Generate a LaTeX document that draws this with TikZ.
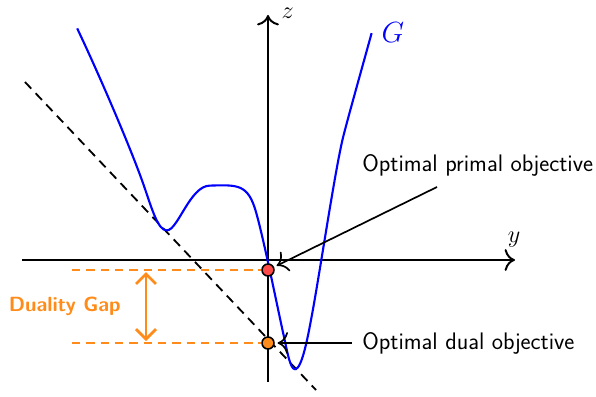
\documentclass[tikz,border=0pt]{standalone}
\usepackage{fontspec}
\usepackage{xcolor}
\usepackage{tikz}
\usetikzlibrary{arrows.meta, calc}
\definecolor{gaporange}{HTML}{FF8C1A}
\definecolor{primalred}{HTML}{FF4A4A}
\definecolor{curveblue}{HTML}{0000FF}

\begin{document}
\begin{tikzpicture}[
        font=\sffamily\fontsize{17}{20}\selectfont,
        axis/.style={-{To[length=2.6mm]}, black, line width=1.4pt},
        curve/.style={curveblue, line width=1.5pt},
        tangent/.style={black, line width=1.3pt, dash pattern=on 6.5pt off 4.5pt},
        gapline/.style={gaporange, line width=2pt, dash pattern=on 6pt off 4.2pt},
        gaparr/.style={{Straight Barb[length=2.5mm]}-{Straight Barb[length=2.5mm]},
                gaporange, line width=2pt},
        dot/.style={circle, draw=black, line width=1.1pt, minimum size=0.3cm,
                inner sep=0pt},
        pointer/.style={-{To[length=2.6mm]}, black, line width=1.2pt,
                shorten >=2pt},
        lbl/.style={anchor=west, inner sep=0pt},
        mathlbl/.style={font=\fontsize{17.28}{20}\selectfont, inner sep=0pt},
    ]
    \useasboundingbox (-6.7,-3.4) rectangle (8.2,6.5);

    % axes
    \coordinate (yStart) at (-6.15,0);
    \coordinate (yEnd) at (6.175,0);
    \coordinate (zStart) at (0,-3.05);
    \coordinate (zEnd) at (0,6.125);
    \draw[axis] (yStart) -- (yEnd);
    \draw[axis] (zStart) -- (zEnd);
    \node[mathlbl] (yLbl) at (6.15,0.5) {$y$};
    \node[mathlbl] (zLbl) at (0.49,6.17) {$z$};

    % supporting line
    \coordinate (tanA) at (-6.075,4.45);
    \coordinate (tanB) at (1.2,-3.25);
    \draw[tangent] (tanA) -- (tanB);

    % the function G
    \draw[curve] (-4.77,5.79)
        .. controls (-4.2,4.59) and (-3.4,2.72) .. (-3.1,1.85)
        .. controls (-2.9,1.27) and (-2.75,0.74) .. (-2.53,0.74)
        .. controls (-2.25,0.74) and (-1.95,1.86) .. (-1.45,1.86)
        .. controls (-0.75,1.88) and (-0.5,1.9) .. (-0.3,1.2)
        .. controls (-0.1,0.5) and (0.25,-1.25) .. (0.38,-1.83)
        .. controls (0.48,-2.28) and (0.55,-2.73) .. (0.675,-2.73)
        .. controls (0.85,-2.73) and (1.0,-1.9) .. (1.09,-1.42)
        .. controls (1.29,-0.36) and (1.68,2.28) .. (1.88,3.08)
        .. controls (2.0,3.56) and (2.4,4.98) .. (2.59,5.67);
    \node[mathlbl, curveblue, font=\fontsize{20.74}{24}\selectfont]
        (gLbl) at (3.125,5.675) {$G$};

    % duality gap
    \coordinate (gapTop) at (-4.9,-0.25);
    \coordinate (gapBot) at (-4.9,-2.075);
    \node[dot, fill=primalred] (primal) at (0,-0.25) {};
    \node[dot, fill=gaporange] (dual) at (0,-2.075) {};
    \draw[gapline] (gapTop) -- (primal.west);
    \draw[gapline] (gapBot) -- (dual.west);
    \coordinate (arrTop) at (-3.05,-0.3);
    \coordinate (arrBot) at (-3.05,-2.025);
    \draw[gaparr] (arrTop) -- (arrBot);
    \node[gaporange, font=\sffamily\bfseries\fontsize{14.6}{17}\selectfont]
        (gapLbl) at (-5.08,-1.17) {Duality Gap};

    % labels
    \node[lbl] (primalLbl) at (2.35,2.375) {Optimal primal objective};
    \node[lbl] (dualLbl) at (2.35,-2.075) {Optimal dual objective};
    \coordinate (primalTail) at (4.225,1.825);
    \coordinate (dualTail) at (2.1,-2.075);
    \draw[pointer] (primalTail) -- (primal);
    \draw[pointer] (dualTail) -- (dual);
\end{tikzpicture}
\end{document}
